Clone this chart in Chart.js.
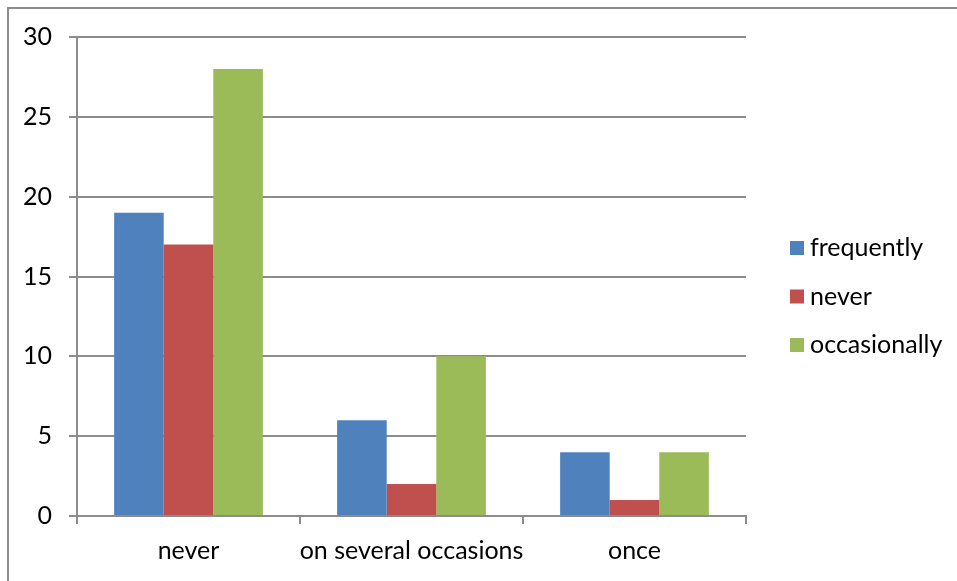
<!DOCTYPE html>
<html>
<head>
<meta charset="utf-8">
<script src="https://cdn.jsdelivr.net/npm/chart.js@4/dist/chart.umd.min.js"></script>
<style>
  html, body { margin: 0; padding: 0; background: #fff; }
  #wrap { position: relative; width: 957px; height: 581px; }
</style>
</head>
<body>
<div id="wrap"><canvas id="c" width="957" height="581"></canvas></div>
<script>
// Answers grouped by category, one series per response
const categories = ['never', 'on several occasions', 'once'];
const seriesNames = ['frequently', 'never', 'occasionally'];
const frequently = [19, 6, 4];
const never = [17, 2, 1];
const occasionally = [28, 10, 4];
const yTicks = [0, 5, 10, 15, 20, 25, 30];

const colors = ['#4F81BD', '#C0504D', '#9BBB59'];
const FONT = { family: 'Lato, "Open Sans", sans-serif', size: 25 };
const AXIS_GRAY = '#8c8c8c';

// White page with a thin frame on the top and left edges
const framePlugin = {
  id: 'frame',
  beforeDraw(chart) {
    const ctx = chart.ctx;
    ctx.save();
    ctx.fillStyle = '#fff';
    ctx.fillRect(0, 0, chart.width, chart.height);
    ctx.strokeStyle = AXIS_GRAY;
    ctx.lineWidth = 2;
    ctx.beginPath();
    ctx.moveTo(8, chart.height);
    ctx.lineTo(8, 8);
    ctx.lineTo(chart.width, 8);
    ctx.stroke();
    ctx.restore();
  }
};

// Legend to the right of the plot, squares with labels
const sideLegend = {
  id: 'sideLegend',
  afterDraw(chart) {
    const ctx = chart.ctx;
    ctx.save();
    ctx.font = FONT.size + 'px ' + FONT.family;
    ctx.textBaseline = 'middle';
    ctx.textAlign = 'left';
    chart.data.datasets.forEach((ds, i) => {
      const y = 248 + i * 48.5;
      ctx.fillStyle = ds.backgroundColor;
      ctx.fillRect(790, y - 7, 14, 14);
      ctx.fillStyle = '#000';
      ctx.fillText(ds.label, 810, y);
    });
    ctx.restore();
  }
};

const seriesValues = [frequently, never, occasionally];

new Chart(document.getElementById('c'), {
  type: 'bar',
  data: {
    labels: categories,
    datasets: seriesNames.map((name, i) => ({
      label: name,
      data: seriesValues[i],
      backgroundColor: colors[i],
      borderWidth: 0,
      categoryPercentage: 0.667,
      barPercentage: 1.0
    }))
  },
  options: {
    responsive: false,
    devicePixelRatio: 1,
    animation: false,
    layout: { padding: { top: 37, right: 211, left: 0, bottom: 0 } },
    plugins: {
      legend: { display: false },
      tooltip: { enabled: false }
    },
    scales: {
      y: {
        min: 0,
        max: 30,
        afterBuildTicks(scale) { scale.ticks = yTicks.map(v => ({ value: v })); },
        afterFit(scale) { scale.width = 77; },
        ticks: { font: FONT, color: '#000', padding: 17 },
        grid: { color: AXIS_GRAY, lineWidth: 2, tickLength: 8, drawTicks: true },
        border: { display: true, color: AXIS_GRAY, width: 2 }
      },
      x: {
        afterFit(scale) { scale.height = 65; },
        ticks: { font: FONT, color: '#000', padding: 12, maxRotation: 0, autoSkip: false },
        grid: { offset: true, drawOnChartArea: false, drawTicks: true, tickLength: 8, color: AXIS_GRAY, lineWidth: 2 },
        border: { display: true, color: AXIS_GRAY, width: 2 }
      }
    }
  },
  plugins: [framePlugin, sideLegend]
});
</script>
</body>
</html>
